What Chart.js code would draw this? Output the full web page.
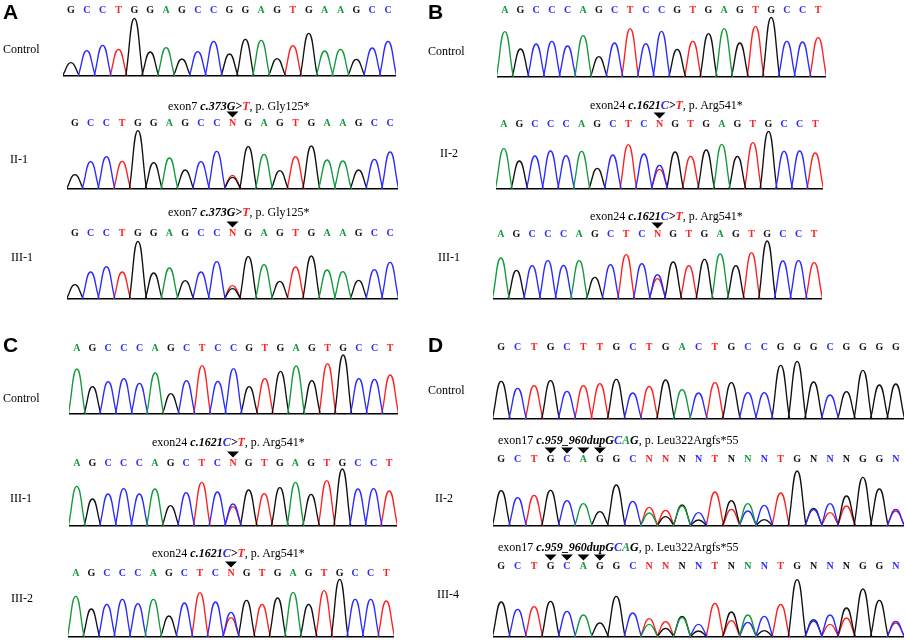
<!DOCTYPE html>
<html>
<head>
<meta charset="utf-8">
<script src="https://cdn.jsdelivr.net/npm/chart.js@4.4.1/dist/chart.umd.min.js"></script>
<style>
body{margin:0;background:#fff;}
#fig{position:relative;width:906px;height:640px;overflow:hidden;font-family:"Liberation Serif","Times New Roman",serif;}
.box{position:absolute;z-index:1;}
.lbl{position:absolute;font-size:12px;line-height:12px;white-space:nowrap;color:#000;z-index:2;-webkit-font-smoothing:antialiased;will-change:transform;}
.pan{position:absolute;font:bold 21px "Liberation Sans",Arial,sans-serif;line-height:21px;z-index:2;will-change:transform;}
.red{color:#ff2020}.blue{color:#2b2bff}.green{color:#149a3c}
</style>
</head>
<body>
<div id="fig">
  <div class="pan" style="left:3px;top:1px">A</div>
  <div class="pan" style="left:428px;top:1px">B</div>
  <div class="pan" style="left:3px;top:334px">C</div>
  <div class="pan" style="left:428px;top:334px">D</div>

  <div class="lbl" style="left:3px;top:43px">Control</div>
  <div class="lbl" style="left:10px;top:153px">II-1</div>
  <div class="lbl" style="left:11px;top:251px">III-1</div>
  <div class="lbl" style="left:428px;top:45px">Control</div>
  <div class="lbl" style="left:440px;top:147px">II-2</div>
  <div class="lbl" style="left:438px;top:251px">III-1</div>
  <div class="lbl" style="left:3px;top:392px">Control</div>
  <div class="lbl" style="left:10px;top:492px">III-1</div>
  <div class="lbl" style="left:11px;top:592px">III-2</div>
  <div class="lbl" style="left:428px;top:384px">Control</div>
  <div class="lbl" style="left:435px;top:492px">II-2</div>
  <div class="lbl" style="left:437px;top:588px">III-4</div>

  <div class="lbl" style="left:168px;top:100px">exon7 <b><i>c.373G&gt;<span class="red">T</span></i></b>, p. Gly125*</div>
  <div class="lbl" style="left:168px;top:206px">exon7 <b><i>c.373G&gt;<span class="red">T</span></i></b>, p. Gly125*</div>
  <div class="lbl" style="left:590px;top:99px">exon24 <b><i>c.1621<span class="blue">C</span>&gt;<span class="red">T</span></i></b>, p. Arg541*</div>
  <div class="lbl" style="left:590px;top:210px">exon24 <b><i>c.1621<span class="blue">C</span>&gt;<span class="red">T</span></i></b>, p. Arg541*</div>
  <div class="lbl" style="left:152px;top:436px">exon24 <b><i>c.1621<span class="blue">C</span>&gt;<span class="red">T</span></i></b>, p. Arg541*</div>
  <div class="lbl" style="left:152px;top:547px">exon24 <b><i>c.1621<span class="blue">C</span>&gt;<span class="red">T</span></i></b>, p. Arg541*</div>
  <div class="lbl" style="left:498px;top:434px">exon17 <b><i>c.959_960dupG<span class="blue">C</span><span class="green">A</span>G</i></b>, p. Leu322Argfs*55</div>
  <div class="lbl" style="left:498px;top:541px">exon17 <b><i>c.959_960dupG<span class="blue">C</span><span class="green">A</span>G</i></b>, p. Leu322Argfs*55</div>
</div>
<script>
// base calls (letters over the peaks)
var seqA = 'GCCTGGAGCCGGAGTGAAGCC'.split('');
var seqAmut = 'GCCTGGAGCCNGAGTGAAGCC'.split('');
var seqB = 'AGCCCAGCTCCGTGAGTGCCT'.split('');
var seqBmut = 'AGCCCAGCTCNGTGAGTGCCT'.split('');
var seqD = 'GCTGCTTGCTGACTGCCGGGCGGGG'.split('');
var seqDmut = 'GCTGCAGGCNNNNTNNNTGNNNGGN'.split('');

// peak heights of the called base (null where the call is N)
var hActrl = [40,76,92,80,173,72,85,51,73,104,66,110,107,52,91,128,75,80,50,84,104];
var hA_II1 = [43,82,97,83,175,79,93,57,82,113,null,127,104,55,97,129,87,84,57,89,111];
var hA_III1 = [43,81,97,81,173,78,93,55,81,112,null,127,103,53,96,129,87,82,56,88,110];
var hBctrl = [136,84,99,107,93,124,61,102,145,100,137,83,107,130,145,102,152,179,107,105,118];
var hB_II2 = [121,84,99,114,100,113,62,102,133,105,null,111,98,117,134,98,139,173,113,114,108];
var hB_III1 = [123,86,100,115,101,115,65,103,133,106,null,111,100,119,135,100,139,174,114,115,109];
var hCctrl = [135,82,97,106,92,123,61,100,145,98,136,82,106,128,144,100,151,177,106,104,117];
var hC_III1 = [119,81,96,112,96,111,61,100,131,102,null,108,97,115,131,95,136,171,111,112,105];
var hC_III2 = [122,84,98,113,100,113,63,102,133,105,null,110,98,117,134,98,139,173,113,113,108];
var hDctrl = [113,92,100,115,83,100,106,119,78,98,117,88,78,109,109,79,79,161,173,111,72,82,146,102,105];
var hD_II2 = [106,85,92,107,76,67,43,123,74,null,null,null,null,102,null,null,null,99,165,null,null,null,146,111,null];
var hD_III4 = [105,83,91,107,77,66,42,122,72,null,null,null,null,101,null,null,null,98,172,null,null,null,144,110,null];

// overlapping peaks at N positions: [position, base, height]; first one colours the N
var mixA_II1 = [[10,'T',41],[10,'G',35]];
var mixA_III1 = [[10,'T',40],[10,'G',31]];
var mixB_II2 = [[10,'T',59],[10,'C',71]];
var mixB_III1 = [[10,'T',61],[10,'C',73]];
var mixC_III1 = [[10,'T',58],[10,'C',66]];
var mixC_III2 = [[10,'T',58],[10,'C',74]];
var mixD_II2 = [[9,'T',56],[9,'A',39],[10,'T',47],[10,'G',28],[11,'G',63],[11,'A',60],[12,'C',40],[12,'G',18],
  [14,'G',76],[14,'T',50],[15,'A',67],[15,'C',45],[16,'C',62],[16,'G',19],[19,'G',53],[19,'C',49],
  [20,'C',67],[20,'T',40],[21,'G',90],[21,'T',60],[24,'C',50],[24,'T',45]];
var mixD_III4 = [[9,'T',55],[9,'A',38],[10,'T',46],[10,'G',26],[11,'G',62],[11,'A',58],[12,'C',38],[12,'G',18],
  [14,'G',75],[14,'T',49],[15,'A',66],[15,'C',44],[16,'C',62],[16,'G',19],[19,'G',52],[19,'C',48],
  [20,'C',66],[20,'T',38],[21,'G',87],[21,'T',57],[24,'C',47],[24,'T',42]];

// arrow marks over the variant
var markSNV = [10];
var markDup = [3,4,5,6];

var COLORS = {A:'#149a3c', C:'#2b2bff', G:'#111111', T:'#ff2020'};
var ORDER = ['A','C','G','T'];
var W = 0.54;   // half width of a peak, in base positions
var AX = 26;    // height kept above the plot for letters and arrows

// left, right, baseline y, letter y
var traces = [
  {seq:seqA, h:hActrl, mix:[], marks:[], pos:[63,396,76,10]},
  {seq:seqAmut, h:hA_II1, mix:mixA_II1, marks:markSNV, pos:[67,398,189,123]},
  {seq:seqAmut, h:hA_III1, mix:mixA_III1, marks:markSNV, pos:[67,398,299,233]},
  {seq:seqB, h:hBctrl, mix:[], marks:[], pos:[497,826,77,10]},
  {seq:seqBmut, h:hB_II2, mix:mixB_II2, marks:markSNV, pos:[496,823,189,124]},
  {seq:seqBmut, h:hB_III1, mix:mixB_III1, marks:markSNV, pos:[493,822,299,234]},
  {seq:seqB, h:hCctrl, mix:[], marks:[], pos:[69,398,414,348]},
  {seq:seqBmut, h:hC_III1, mix:mixC_III1, marks:markSNV, pos:[69,397,526,463]},
  {seq:seqBmut, h:hC_III2, mix:mixC_III2, marks:markSNV, pos:[68,394,637,573]},
  {seq:seqD, h:hDctrl, mix:[], marks:[], pos:[493,904,419,347]},
  {seq:seqDmut, h:hD_II2, mix:mixD_II2, marks:markDup, pos:[493,904,526,459]},
  {seq:seqDmut, h:hD_III4, mix:mixD_III4, marks:markDup, pos:[493,904,637,566]}
];

// one small dataset per peak: trough, apex, trough
function peakSets(t) {
  var peaks = [];
  t.h.forEach(function(v, i) { if (v !== null) peaks.push([i, t.seq[i], v]); });
  t.mix.forEach(function(m) { peaks.push(m); });
  peaks.sort(function(a, b) { return ORDER.indexOf(a[1]) - ORDER.indexOf(b[1]); });
  return peaks.map(function(p) {
    return {
      data: [{x:p[0]-W, y:0}, {x:p[0], y:p[2]}, {x:p[0]+W, y:0}],
      borderColor: COLORS[p[1]],
      borderWidth: 1.35,
      pointRadius: 0,
      tension: 0.5,
      fill: false,
      clip: false
    };
  });
}

function letterColor(t, i) {
  var b = t.seq[i];
  if (b === 'N') {
    for (var k = 0; k < t.mix.length; k++) if (t.mix[k][0] === i) return COLORS[t.mix[k][1]];
  }
  return COLORS[b] || '#000';
}

var arrowPlugin = {
  id: 'arrows',
  afterDraw: function(chart, args, opts) {
    var ctx = chart.ctx, top = chart.chartArea.top;
    ctx.save();
    ctx.fillStyle = '#000';
    (opts.marks || []).forEach(function(i) {
      var x = chart.scales.x.getPixelForValue(i);
      var yl = top - 9;
      ctx.beginPath();
      ctx.moveTo(x - 6, yl - 11.5);
      ctx.lineTo(x + 6, yl - 11.5);
      ctx.lineTo(x, yl - 5.5);
      ctx.closePath();
      ctx.fill();
    });
    ctx.restore();
  }
};

var fig = document.getElementById('fig');
traces.forEach(function(t) {
  var L = t.pos[0], R = t.pos[1], base = t.pos[2], ly = t.pos[3];
  var areaH = base - ly - 9;
  var box = document.createElement('div');
  box.className = 'box';
  box.style.left = L + 'px';
  box.style.top = (ly + 9 - AX) + 'px';
  box.style.width = (R - L) + 'px';
  box.style.height = (AX + areaH + 2) + 'px';
  var cv = document.createElement('canvas');
  box.appendChild(cv);
  fig.appendChild(box);

  var n = t.seq.length;
  new Chart(cv.getContext('2d'), {
    type: 'line',
    data: {datasets: peakSets(t)},
    plugins: [arrowPlugin],
    options: {
      responsive: true,
      maintainAspectRatio: false,
      animation: false,
      layout: {padding: 0},
      plugins: {legend: {display: false}, tooltip: {enabled: false}, arrows: {marks: t.marks}},
      scales: {
        x: {
          type: 'linear', position: 'bottom', min: -0.5, max: n - 0.5,
          ticks: {display: false},
          grid: {display: false, drawTicks: false},
          border: {display: true, color: '#000', width: 1.5},
          afterFit: function(s) { s.height = 2; }
        },
        xt: {
          type: 'linear', position: 'top', min: -0.5, max: n - 0.5,
          afterBuildTicks: function(s) { s.ticks = t.seq.map(function(_, i) { return {value: i}; }); },
          ticks: {
            autoSkip: false, maxRotation: 0, padding: 3,
            font: {family: 'Liberation Serif', weight: 'bold', size: 10},
            color: function(c) { return letterColor(t, c.index); },
            callback: function(v) { return t.seq[v]; }
          },
          grid: {display: false, drawTicks: false},
          border: {display: false},
          afterFit: function(s) { s.height = AX; }
        },
        y: {display: false, min: 0, max: areaH * 3}
      }
    }
  });
});
</script>
</body>
</html>
